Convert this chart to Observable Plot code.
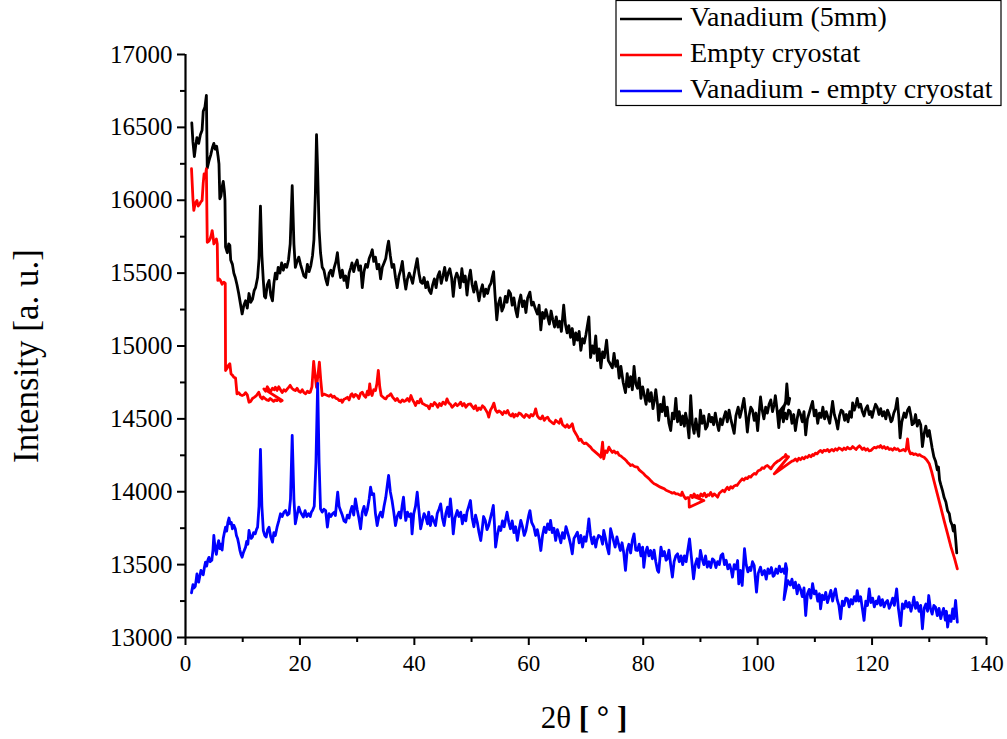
<!DOCTYPE html>
<html><head><meta charset="utf-8">
<script src="https://cdn.jsdelivr.net/npm/d3@7"></script>
<script src="https://cdn.jsdelivr.net/npm/@observablehq/plot@0.6"></script>
<style>body{margin:0;background:#fff}</style>
</head><body><div id="chart"></div>
<script>
// 2θ (degrees), intensity (a. u.)
const vanadium = [[1.1,16530],[1.3,16400],[1.55,16300],[1.8,16380],[2.0,16430],[2.3,16390],[2.6,16450],[2.9,16480],[3.1,16610],[3.4,16640],[3.65,16720],[3.8,16220],[4.1,16270],[4.4,16310],[4.7,16360],[4.95,16390],[5.2,16350],[5.45,16370],[5.7,16300],[5.85,16250],[6.0,16010],[6.2,16030],[6.4,16090],[6.6,16130],[6.8,16060],[6.9,16000],[7.0,15680],[7.3,15640],[7.55,15700],[7.75,15690],[7.9,15590],[8.2,15560],[8.45,15500],[8.7,15470],[9.0,15420],[9.3,15360],[9.6,15290],[9.9,15220],[10.2,15280],[10.5,15310],[10.8,15260],[11.1,15360],[11.4,15300],[11.7,15320],[12.0,15380],[12.25,15400],[12.6,15470],[12.85,15600],[13.1,15960],[13.35,15620],[13.6,15450],[13.8,15340],[14.0,15330],[14.3,15420],[14.6,15450],[14.9,15350],[15.2,15310],[15.45,15430],[15.7,15500],[15.95,15460],[16.2,15540],[16.5,15500],[16.8,15570],[17.1,15520],[17.4,15560],[17.7,15540],[18.0,15590],[18.3,15700],[18.65,16100],[18.95,15700],[19.2,15540],[19.5,15580],[19.8,15610],[20.1,15560],[20.4,15520],[20.7,15480],[21.0,15470],[21.3,15560],[21.6,15510],[21.9,15550],[22.2,15620],[22.45,15730],[22.7,16050],[22.9,16450],[23.1,16200],[23.35,15800],[23.6,15640],[23.9,15540],[24.2,15520],[24.5,15460],[24.8,15420],[25.1,15500],[25.4,15520],[25.7,15480],[26.0,15540],[26.3,15580],[26.55,15640],[26.8,15540],[27.1,15470],[27.4,15520],[27.7,15450],[28.0,15480],[28.3,15400],[28.6,15500],[28.9,15540],[29.1,15570],[29.4,15510],[29.7,15560],[30.0,15590],[30.3,15520],[30.6,15550],[30.9,15400],[31.2,15510],[31.5,15560],[31.8,15540],[32.1,15600],[32.4,15630],[32.65,15660],[32.9,15580],[33.2,15610],[33.5,15530],[33.8,15560],[34.1,15460],[34.4,15540],[34.7,15570],[35.0,15600],[35.3,15680],[35.5,15720],[35.8,15620],[36.1,15540],[36.4,15560],[36.7,15470],[37.0,15400],[37.3,15480],[37.6,15520],[37.9,15580],[38.2,15470],[38.5,15390],[38.8,15460],[39.1,15500],[39.4,15470],[39.7,15430],[40.0,15500],[40.3,15560],[40.5,15600],[40.8,15500],[41.1,15440],[41.4,15430],[41.7,15470],[42.0,15400],[42.3,15440],[42.6,15380],[42.9,15360],[43.2,15420],[43.5,15460],[43.8,15400],[44.1,15480],[44.4,15510],[44.7,15430],[45.0,15480],[45.3,15540],[45.6,15450],[45.9,15500],[46.2,15530],[46.5,15470],[46.8,15340],[47.1,15460],[47.4,15500],[47.7,15470],[48.0,15400],[48.3,15530],[48.6,15440],[48.9,15480],[49.2,15350],[49.5,15460],[49.8,15520],[50.1,15420],[50.4,15370],[50.7,15440],[51.0,15380],[51.3,15310],[51.6,15380],[51.9,15420],[52.2,15340],[52.5,15390],[52.8,15360],[53.1,15410],[53.4,15430],[53.6,15470],[53.85,15510],[54.1,15350],[54.4,15180],[54.7,15290],[55.0,15330],[55.3,15240],[55.6,15270],[55.9,15340],[56.2,15300],[56.5,15380],[56.8,15360],[57.1,15280],[57.4,15330],[57.7,15250],[58.0,15200],[58.3,15300],[58.6,15350],[58.9,15270],[59.2,15310],[59.5,15230],[59.8,15330],[60.2,15370],[60.5,15280],[60.8,15300],[61.1,15260],[61.5,15220],[61.8,15280],[62.1,15110],[62.4,15230],[62.7,15190],[63.0,15250],[63.3,15200],[63.6,15150],[63.9,15240],[64.2,15180],[64.5,15130],[64.8,15200],[65.1,15130],[65.4,15170],[65.7,15100],[66.1,15280],[66.4,15150],[66.7,15090],[67.0,15140],[67.3,15060],[67.6,15120],[67.9,15010],[68.2,15090],[68.5,15040],[68.8,15100],[69.1,14970],[69.4,15050],[69.7,15020],[70.0,15080],[70.5,15200],[70.8,14920],[71.1,15000],[71.4,14950],[71.7,15070],[72.0,14900],[72.3,14980],[72.6,14850],[72.9,14960],[73.2,14920],[73.6,15040],[73.9,14900],[74.2,14880],[74.6,14850],[74.9,14950],[75.2,14860],[75.5,14900],[75.8,14780],[76.1,14860],[76.5,14750],[76.9,14680],[77.2,14810],[77.5,14720],[77.8,14790],[78.1,14700],[78.4,14860],[78.7,14740],[79.0,14710],[79.3,14780],[79.6,14640],[79.9,14720],[80.2,14660],[80.5,14600],[80.8,14700],[81.1,14620],[81.4,14680],[81.7,14570],[82.0,14640],[82.2,14700],[82.5,14600],[82.7,14490],[83.0,14600],[83.3,14550],[83.6,14650],[83.9,14520],[84.2,14580],[84.5,14470],[84.8,14420],[85.1,14540],[85.4,14500],[85.7,14640],[86.0,14480],[86.3,14550],[86.6,14460],[86.9,14520],[87.2,14450],[87.4,14540],[87.7,14480],[88.0,14370],[88.3,14660],[88.6,14460],[88.9,14400],[89.2,14500],[89.5,14420],[89.7,14380],[90.0,14560],[90.3,14470],[90.6,14520],[90.9,14430],[91.2,14450],[91.5,14530],[91.8,14480],[92.0,14510],[92.3,14460],[92.6,14540],[92.9,14470],[93.2,14420],[93.5,14500],[93.8,14460],[94.1,14510],[94.4,14550],[94.7,14480],[95.0,14560],[95.3,14500],[95.6,14450],[95.9,14400],[96.2,14520],[96.6,14580],[96.9,14510],[97.2,14560],[97.6,14640],[97.9,14540],[98.2,14410],[98.5,14520],[98.8,14580],[99.1,14560],[99.4,14490],[99.7,14540],[100.0,14420],[100.3,14560],[100.5,14650],[100.8,14560],[101.1,14500],[101.4,14580],[101.7,14540],[102.0,14600],[102.3,14630],[102.6,14550],[102.9,14600],[103.1,14660],[103.4,14560],[103.7,14440],[104.0,14560],[104.3,14520],[104.6,14580],[104.9,14620],[105.1,14740],[105.4,14600],[105.6,14640],[103.6,14540],[103.9,14500],[104.2,14570],[104.5,14480],[104.8,14540],[105.1,14500],[105.4,14560],[105.7,14550],[106.0,14470],[106.3,14530],[106.6,14420],[106.9,14500],[107.2,14560],[107.5,14530],[107.8,14480],[108.1,14550],[108.4,14390],[108.7,14500],[109.0,14540],[109.3,14580],[109.6,14620],[109.9,14520],[110.2,14560],[110.5,14470],[110.8,14540],[111.1,14510],[111.4,14580],[111.7,14500],[112.0,14550],[112.3,14510],[112.6,14470],[112.9,14560],[113.1,14620],[113.4,14530],[113.7,14490],[114.0,14430],[114.3,14520],[114.6,14560],[114.9,14550],[115.2,14490],[115.5,14530],[115.8,14480],[116.1,14550],[116.4,14510],[116.6,14610],[116.9,14560],[117.2,14600],[117.4,14640],[117.7,14580],[118.0,14600],[118.3,14550],[118.6,14520],[118.9,14570],[119.2,14590],[119.5,14530],[119.8,14550],[120.0,14510],[120.3,14560],[120.6,14600],[120.9,14580],[121.2,14530],[121.5,14570],[121.8,14520],[122.1,14550],[122.4,14500],[122.7,14560],[123.0,14530],[123.3,14480],[123.5,14490],[123.8,14540],[124.1,14570],[124.4,14640],[124.7,14500],[124.9,14370],[125.2,14480],[125.6,14540],[125.9,14510],[126.2,14560],[126.5,14580],[126.8,14520],[127.0,14460],[127.3,14470],[127.6,14530],[127.9,14450],[128.2,14490],[128.5,14460],[128.8,14310],[129.1,14400],[129.4,14450],[129.7,14380],[130.0,14420],[130.2,14370],[130.5,14300],[130.8,14240],[131.1,14210],[131.4,14150],[131.6,14170],[131.8,14080],[132.0,14050],[132.3,14010],[132.6,13960],[132.9,13930],[133.2,13870],[133.5,13850],[133.7,13800],[134.0,13770],[134.2,13730],[134.4,13770],[134.6,13680],[134.8,13580]];

const emptyCryostat = [[1.05,16216],[1.3,16010],[1.45,15930],[1.7,15980],[2.0,15998],[2.2,15960],[2.5,15975],[2.7,15990],[2.9,15998],[3.1,16120],[3.25,16181],[3.5,16170],[3.65,16216],[3.8,15712],[4.1,15720],[4.3,15735],[4.5,15760],[4.66,15792],[4.85,15740],[4.95,15700],[5.2,15720],[5.4,15735],[5.55,15700],[5.65,15450],[5.9,15460],[6.1,15450],[6.4,15424],[6.7,15438],[6.95,15430],[7.0,14832],[7.3,14850],[7.55,14870],[7.75,14878],[7.95,14810],[8.2,14800],[8.45,14786],[8.75,14780],[9.0,14672],[9.3,14680],[9.6,14665],[9.9,14660],[10.2,14665],[10.5,14680],[10.8,14665],[11.1,14614],[11.4,14620],[11.7,14640],[12.0,14648],[12.4,14660],[12.8,14683],[13.1,14650],[13.4,14637],[13.6,14650],[13.9,14640],[14.2,14630],[14.5,14626],[14.8,14640],[15.1,14630],[15.4,14620],[15.7,14630],[16.0,14625],[16.3,14640],[16.6,14620],[16.9,14626],[13.7,14706],[14.0,14690],[14.3,14720],[14.6,14700],[14.9,14690],[15.2,14710],[15.5,14700],[15.7,14717],[16.0,14695],[16.3,14720],[16.6,14700],[16.9,14680],[17.2,14700],[17.5,14690],[17.8,14706],[18.1,14720],[18.3,14730],[18.6,14710],[18.9,14700],[19.2,14694],[19.5,14710],[19.8,14690],[20.1,14683],[20.4,14700],[20.7,14680],[21.0,14672],[21.3,14690],[21.6,14680],[21.8,14683],[22.1,14720],[22.4,14895],[22.65,14800],[22.9,14717],[23.15,14800],[23.4,14889],[23.65,14760],[23.9,14660],[24.2,14670],[24.5,14665],[24.8,14660],[25.1,14655],[25.4,14665],[25.7,14648],[26.0,14655],[26.3,14640],[26.6,14637],[26.9,14625],[27.2,14630],[27.4,14614],[27.7,14635],[28.0,14640],[28.3,14648],[28.6,14630],[28.9,14665],[29.1,14672],[29.4,14650],[29.7,14668],[30.0,14660],[30.3,14640],[30.6,14675],[30.9,14683],[31.2,14660],[31.5,14648],[31.8,14690],[32.0,14665],[32.2,14740],[32.4,14680],[32.6,14660],[32.9,14700],[33.2,14694],[33.45,14740],[33.7,14832],[33.95,14720],[34.2,14660],[34.5,14650],[34.8,14640],[35.0,14637],[35.3,14655],[35.6,14660],[35.9,14672],[36.2,14650],[36.5,14635],[36.7,14626],[37.0,14640],[37.3,14620],[37.6,14614],[37.9,14630],[38.2,14620],[38.5,14626],[38.8,14640],[39.1,14620],[39.4,14660],[39.7,14630],[40.0,14610],[40.2,14592],[40.5,14620],[40.8,14610],[41.1,14637],[41.4,14605],[41.7,14600],[42.0,14592],[42.3,14590],[42.6,14569],[42.9,14600],[43.2,14590],[43.5,14612],[43.8,14600],[44.1,14580],[44.4,14605],[44.7,14590],[45.0,14615],[45.4,14600],[45.7,14637],[46.0,14610],[46.3,14600],[46.6,14580],[46.9,14592],[47.2,14605],[47.5,14590],[47.8,14600],[48.1,14615],[48.4,14590],[48.7,14605],[49.0,14580],[49.4,14600],[49.8,14603],[50.1,14585],[50.4,14570],[50.7,14590],[51.0,14558],[51.3,14575],[51.6,14565],[51.9,14590],[52.2,14580],[52.5,14560],[52.8,14540],[53.0,14512],[53.3,14560],[53.6,14580],[53.9,14608],[54.2,14560],[54.5,14545],[54.8,14555],[55.1,14546],[55.4,14530],[55.7,14550],[56.0,14540],[56.3,14558],[56.6,14530],[56.9,14520],[57.2,14535],[57.4,14512],[57.7,14530],[58.0,14520],[58.3,14540],[58.6,14535],[58.9,14520],[59.2,14510],[59.5,14530],[59.8,14523],[60.1,14510],[60.4,14530],[60.7,14520],[61.0,14540],[61.2,14569],[61.5,14520],[61.8,14505],[62.1,14500],[62.4,14520],[62.7,14490],[63.0,14505],[63.3,14512],[63.6,14490],[63.9,14480],[64.2,14470],[64.4,14466],[64.7,14490],[65.0,14480],[65.3,14470],[65.6,14500],[65.9,14460],[66.2,14450],[66.4,14443],[66.7,14460],[67.0,14440],[67.3,14450],[67.6,14466],[67.9,14420],[68.2,14400],[68.5,14380],[68.8,14352],[69.1,14360],[69.4,14340],[69.7,14330],[70.0,14335],[70.4,14320],[70.8,14306],[71.1,14290],[71.4,14280],[71.7,14270],[72.0,14260],[72.3,14250],[72.6,14237],[72.9,14340],[73.1,14226],[73.4,14280],[73.7,14270],[74.0,14306],[74.3,14285],[74.6,14270],[74.9,14280],[75.2,14265],[75.5,14272],[75.8,14250],[76.1,14245],[76.4,14235],[76.7,14226],[77.0,14215],[77.3,14200],[77.6,14190],[77.8,14180],[78.1,14185],[78.4,14175],[78.7,14170],[79.0,14169],[79.3,14150],[79.6,14140],[79.9,14130],[80.1,14123],[80.4,14110],[80.7,14100],[81.0,14090],[81.3,14077],[81.6,14065],[81.9,14055],[82.2,14050],[82.5,14043],[82.8,14035],[83.1,14030],[83.4,14025],[83.7,14020],[84.0,14010],[84.3,14005],[84.6,14000],[84.8,13997],[85.1,13990],[85.4,13995],[85.7,13985],[86.0,13986],[86.3,13980],[86.6,13975],[86.8,13997],[87.1,13970],[87.4,13952],[87.7,13960],[88.0,13960],[88.05,13894],[90.6,13940],[88.3,13975],[88.6,13960],[88.9,13985],[89.2,13965],[89.5,13975],[89.8,13960],[90.1,13985],[90.4,13970],[90.7,13990],[91.0,13965],[91.3,13980],[91.5,13975],[91.8,13995],[92.1,13970],[92.4,13985],[92.7,13975],[93.0,13963],[93.3,13990],[93.6,14000],[93.9,14010],[94.2,14000],[94.5,14020],[94.7,14031],[95.0,14015],[95.3,14035],[95.6,14025],[95.9,14040],[96.2,14045],[96.4,14043],[96.7,14060],[97.0,14075],[97.3,14089],[97.6,14080],[97.9,14095],[98.2,14090],[98.5,14105],[98.8,14100],[99.1,14115],[99.4,14125],[99.7,14120],[100.0,14140],[100.2,14146],[100.5,14150],[100.8,14165],[101.1,14160],[101.4,14175],[101.7,14180],[102.0,14170],[102.3,14157],[102.6,14175],[102.9,14190],[103.2,14200],[103.5,14210],[103.8,14215],[104.1,14225],[104.4,14235],[104.7,14240],[104.9,14255],[105.2,14237],[105.4,14240],[102.9,14123],[106.0,14210],[106.3,14214],[106.6,14225],[106.9,14210],[107.2,14230],[107.5,14220],[107.8,14235],[108.1,14226],[108.4,14240],[108.7,14235],[109.0,14250],[109.3,14240],[109.6,14255],[109.8,14249],[110.1,14265],[110.4,14260],[110.7,14275],[111.0,14283],[111.3,14270],[111.6,14285],[111.9,14280],[112.2,14290],[112.5,14275],[112.7,14283],[113.0,14290],[113.3,14280],[113.6,14295],[113.9,14285],[114.2,14300],[114.5,14295],[114.8,14285],[115.1,14300],[115.4,14290],[115.7,14305],[116.0,14295],[116.3,14295],[116.6,14310],[116.9,14300],[117.2,14290],[117.5,14305],[117.8,14315],[118.0,14306],[118.3,14290],[118.6,14300],[118.9,14285],[119.2,14295],[119.5,14280],[119.8,14283],[120.1,14295],[120.4,14305],[120.7,14300],[121.0,14310],[121.3,14305],[121.5,14317],[121.8,14300],[122.1,14310],[122.4,14295],[122.7,14305],[123.0,14290],[123.3,14295],[123.6,14285],[123.9,14300],[124.2,14290],[124.5,14295],[124.8,14280],[125.1,14283],[125.5,14290],[125.8,14280],[126.0,14300],[126.2,14363],[126.4,14290],[126.7,14260],[127.0,14265],[127.3,14255],[127.6,14260],[128.0,14249],[128.3,14255],[128.6,14245],[128.9,14240],[129.1,14237],[129.4,14225],[129.7,14210],[130.0,14192],[130.4,14140],[130.8,14077],[131.4,13985],[132.0,13894],[132.6,13800],[133.2,13711],[133.8,13620],[134.4,13545],[134.9,13471]];

const difference = [[1.05,13307],[1.3,13362],[1.5,13340],[1.7,13350],[1.85,13390],[2.0,13437],[2.15,13400],[2.3,13380],[2.5,13420],[2.7,13460],[2.9,13445],[3.1,13430],[3.3,13480],[3.5,13517],[3.7,13490],[3.9,13530],[4.1,13550],[4.3,13520],[4.6,13530],[4.8,13600],[4.95,13700],[5.15,13620],[5.4,13570],[5.6,13630],[5.8,13665],[6.0,13610],[6.2,13640],[6.4,13600],[6.6,13680],[6.8,13720],[7.0,13757],[7.2,13730],[7.4,13790],[7.6,13820],[7.8,13780],[8.0,13790],[8.2,13746],[8.45,13770],[8.7,13746],[8.9,13700],[9.1,13680],[9.3,13643],[9.5,13600],[9.7,13570],[9.9,13551],[10.1,13580],[10.3,13600],[10.5,13620],[10.7,13660],[10.9,13640],[11.1,13734],[11.3,13700],[11.5,13680],[11.7,13690],[11.9,13720],[12.2,13712],[12.4,13740],[12.6,13757],[12.85,13900],[13.1,14290],[13.35,13900],[13.6,13734],[13.85,13700],[14.1,13690],[14.35,13740],[14.6,13757],[14.9,13690],[15.2,13654],[15.45,13720],[15.7,13700],[16.0,13757],[16.3,13800],[16.6,13849],[16.9,13830],[17.2,13860],[17.5,13871],[17.8,13840],[18.1,13849],[18.35,13950],[18.65,14386],[18.95,13950],[19.2,13780],[19.5,13840],[19.8,13895],[20.1,13860],[20.4,13840],[20.6,13826],[20.9,13870],[21.2,13830],[21.5,13849],[21.8,13830],[22.0,13860],[22.2,13871],[22.5,13900],[22.8,14200],[23.1,14743],[23.35,14200],[23.6,13883],[23.9,13860],[24.2,13880],[24.5,13871],[24.8,13757],[25.1,13850],[25.4,13830],[25.7,13849],[26.0,13860],[26.2,13837],[26.45,13940],[26.6,13997],[26.85,13900],[27.1,13871],[27.4,13840],[27.7,13800],[28.0,13791],[28.3,13840],[28.6,13820],[28.8,13860],[29.1,13900],[29.4,13840],[29.7,13951],[30.0,13880],[30.3,13820],[30.6,13746],[30.9,13860],[31.2,13900],[31.5,13840],[31.8,13880],[32.1,13950],[32.35,14031],[32.6,13980],[32.9,13986],[33.2,13850],[33.5,13768],[33.8,13830],[34.1,13860],[34.4,13826],[34.7,13900],[35.0,13960],[35.3,14054],[35.5,14112],[35.8,14000],[36.1,13940],[36.4,13860],[36.7,13768],[37.0,13830],[37.3,13860],[37.6,13820],[37.85,13900],[38.1,13963],[38.3,13870],[38.5,13803],[38.8,13860],[39.1,13830],[39.4,13849],[39.6,13711],[39.9,13850],[40.2,13900],[40.5,13997],[40.8,13870],[41.1,13746],[41.4,13800],[41.7,13850],[42.0,13826],[42.3,13780],[42.5,13860],[42.8,13768],[43.1,13830],[43.4,13800],[43.7,13768],[44.0,13850],[44.3,13880],[44.6,13917],[44.9,13820],[45.2,13768],[45.5,13850],[45.8,13894],[46.05,13830],[46.3,13951],[46.55,13850],[46.8,13711],[47.1,13820],[47.5,13871],[47.8,13830],[48.1,13860],[48.4,13780],[48.7,13840],[49.0,13800],[49.2,13860],[49.5,13900],[49.8,13940],[50.1,13820],[50.4,13760],[50.7,13840],[51.0,13790],[51.3,13720],[51.6,13665],[51.9,13760],[52.1,13830],[52.4,13803],[52.7,13740],[53.0,13768],[53.3,13820],[53.55,13860],[53.8,13906],[54.0,13780],[54.2,13620],[54.5,13700],[54.8,13760],[55.1,13734],[55.4,13800],[55.7,13760],[56.0,13820],[56.2,13860],[56.5,13790],[56.8,13746],[57.1,13800],[57.4,13720],[57.7,13760],[58.0,13666],[58.3,13740],[58.6,13803],[58.9,13760],[59.2,13700],[59.5,13734],[59.8,13800],[60.0,13840],[60.2,13871],[60.5,13790],[60.9,13757],[61.2,13700],[61.5,13740],[61.8,13680],[62.1,13597],[62.4,13700],[62.7,13757],[63.0,13720],[63.3,13780],[63.6,13740],[63.8,13803],[64.1,13720],[64.4,13750],[64.7,13666],[65.0,13740],[65.3,13700],[65.6,13650],[65.9,13720],[66.2,13680],[66.5,13760],[66.7,13734],[67.0,13690],[67.3,13640],[67.6,13574],[67.9,13680],[68.2,13700],[68.5,13723],[68.8,13650],[69.1,13700],[69.4,13620],[69.7,13690],[70.0,13660],[70.3,13740],[70.5,13814],[70.8,13700],[71.1,13643],[71.4,13690],[71.7,13620],[71.9,13666],[72.2,13700],[72.6,13688],[72.9,13640],[73.1,13734],[73.4,13680],[73.7,13620],[74.0,13574],[74.3,13746],[74.6,13700],[74.8,13666],[75.1,13620],[75.4,13690],[75.7,13640],[76.0,13597],[76.3,13650],[76.6,13580],[76.9,13460],[77.2,13600],[77.5,13640],[77.8,13580],[78.1,13666],[78.4,13711],[78.7,13600],[79.0,13597],[79.3,13640],[79.6,13560],[79.9,13620],[80.1,13482],[80.4,13580],[80.7,13620],[81.0,13560],[81.3,13597],[81.6,13540],[81.9,13600],[82.2,13520],[82.5,13460],[82.7,13448],[83.1,13620],[83.4,13560],[83.7,13590],[84.0,13530],[84.2,13540],[84.5,13600],[84.8,13500],[85.1,13414],[85.4,13520],[85.7,13560],[86.0,13574],[86.3,13520],[86.6,13560],[86.9,13500],[87.2,13560],[87.5,13520],[87.8,13600],[88.1,13677],[88.4,13560],[88.8,13403],[89.1,13500],[89.4,13540],[89.7,13480],[90.0,13597],[90.3,13540],[90.6,13500],[90.9,13560],[91.2,13483],[91.5,13520],[91.8,13480],[92.1,13540],[92.4,13528],[92.7,13480],[93.0,13520],[93.3,13500],[93.6,13563],[93.9,13574],[94.2,13500],[94.5,13530],[94.8,13471],[95.1,13500],[95.4,13460],[95.6,13414],[95.9,13500],[96.2,13470],[96.5,13528],[96.7,13368],[97.0,13460],[97.3,13357],[97.5,13480],[97.7,13609],[98.0,13500],[98.3,13450],[98.6,13480],[98.8,13460],[99.1,13520],[99.4,13494],[99.6,13400],[99.8,13311],[100.1,13440],[100.5,13483],[100.8,13430],[101.2,13460],[101.5,13400],[101.8,13470],[102.1,13440],[102.4,13480],[102.7,13420],[102.9,13426],[103.2,13470],[103.5,13440],[103.8,13490],[104.1,13450],[104.4,13470],[104.7,13440],[104.9,13506],[105.1,13470],[104.6,13260],[105.0,13340],[105.3,13390],[105.7,13360],[106.0,13400],[106.3,13340],[106.6,13380],[106.9,13300],[107.2,13360],[107.5,13330],[107.8,13280],[108.1,13340],[108.4,13151],[108.7,13300],[109.0,13330],[109.3,13270],[109.6,13370],[109.9,13300],[110.2,13320],[110.5,13250],[110.8,13300],[111.0,13197],[111.3,13290],[111.6,13260],[111.9,13310],[112.2,13240],[112.5,13280],[112.8,13323],[113.1,13250],[113.3,13290],[113.6,13334],[113.9,13260],[114.2,13220],[114.5,13128],[114.8,13250],[115.1,13220],[115.4,13270],[115.7,13265],[116.0,13210],[116.3,13260],[116.6,13230],[116.9,13280],[117.2,13250],[117.4,13322],[117.7,13250],[118.0,13280],[118.3,13200],[118.6,13117],[118.9,13250],[119.2,13220],[119.5,13334],[119.8,13240],[120.1,13270],[120.4,13210],[120.7,13250],[120.9,13231],[121.2,13280],[121.5,13220],[121.8,13260],[122.1,13210],[122.4,13240],[122.7,13254],[123.0,13200],[123.3,13230],[123.6,13270],[123.9,13220],[124.1,13280],[124.3,13334],[124.6,13200],[125.0,13082],[125.3,13230],[125.6,13200],[125.9,13250],[126.2,13208],[126.5,13240],[126.8,13180],[127.1,13230],[127.3,13277],[127.6,13200],[127.9,13240],[128.2,13180],[128.5,13220],[128.8,13060],[129.1,13200],[129.4,13230],[129.7,13180],[129.9,13288],[130.2,13200],[130.5,13160],[130.8,13220],[131.1,13208],[131.4,13150],[131.7,13200],[132.0,13130],[132.2,13162],[132.5,13200],[132.8,13120],[133.0,13180],[133.2,13071],[133.5,13150],[133.8,13110],[134.1,13197],[134.3,13130],[134.6,13254],[134.9,13105]];

const seriesNames = ["Vanadium (5mm)", "Empty cryostat", "Vanadium - empty cryostat"];
const seriesColors = ["#000000", "#ff0000", "#0000ff"];
const xTicks = [0, 20, 40, 60, 80, 100, 120, 140];
const xMinorTicks = [10, 30, 50, 70, 90, 110, 130];
const yTicks = [13000, 13500, 14000, 14500, 15000, 15500, 16000, 16500, 17000];
const yMinorTicks = [13250, 13750, 14250, 14750, 15250, 15750, 16250, 16750];
const xTitle = "2θ";
const xTitleUnit = "[ ° ]";
const yTitle = "Intensity [a. u.]";

const font = "'Liberation Serif', 'Times New Roman', serif";
const series = [vanadium, emptyCryostat, difference];

const plot = Plot.plot({
  width: 1007, height: 739,
  marginLeft: 185, marginRight: 21, marginTop: 54, marginBottom: 102,
  style: {fontFamily: font, background: "#fff", color: "#000"},
  x: {domain: [0, 140]},
  y: {domain: [13000, 17000]},
  marks: [
    Plot.axisX({ticks: xTicks, tickSize: 8, tickPadding: 9, fontSize: 23, strokeWidth: 2, label: null, tickFormat: d => String(d)}),
    Plot.axisX({ticks: xMinorTicks, tickSize: 5, strokeWidth: 2, text: null, label: null}),
    Plot.axisY({ticks: yTicks, tickSize: 8, tickPadding: 5, fontSize: 25, strokeWidth: 2, label: null, tickFormat: d => String(d)}),
    Plot.axisY({ticks: yMinorTicks, tickSize: 5, strokeWidth: 2, text: null, label: null}),
    ...series.map((s, i) => Plot.line(s, {x: d => d[0], y: d => d[1], stroke: seriesColors[i], strokeWidth: 2.8, strokeLinejoin: "round"})),
    Plot.ruleX([0], {strokeWidth: 2.2}),
    Plot.ruleY([13000], {strokeWidth: 2.2})
  ]
});

const svg = d3.select(plot);
// axis titles
svg.append("text")
  .attr("transform", "translate(30,356) rotate(-90)")
  .attr("text-anchor", "middle").attr("dominant-baseline", "middle")
  .attr("font-family", font).attr("font-size", 35).text(yTitle);
const xt = svg.append("text")
  .attr("x", 584).attr("y", 728).attr("text-anchor", "middle")
  .attr("font-family", font).attr("font-size", 31);
xt.append("tspan").text(xTitle + " ");
xt.append("tspan").attr("font-weight", "bold").text(xTitleUnit);

// legend
const lg = svg.append("g").attr("font-family", font).attr("font-size", 28).attr("text-anchor", "start");
lg.append("rect").attr("x", 616).attr("y", 0.5).attr("width", 385).attr("height", 105)
  .attr("fill", "#fff").attr("stroke", "#000").attr("stroke-width", 1.2);
seriesNames.forEach((name, i) => {
  const cy = 19 + i * 36;
  lg.append("line").attr("x1", 620).attr("x2", 682).attr("y1", cy).attr("y2", cy)
    .attr("stroke", seriesColors[i]).attr("stroke-width", 2.4);
  lg.append("text").attr("x", 690).attr("y", cy + 1).attr("text-anchor", "start")
    .attr("dominant-baseline", "middle").text(name);
});

document.getElementById("chart").appendChild(plot);
</script>
</body></html>
